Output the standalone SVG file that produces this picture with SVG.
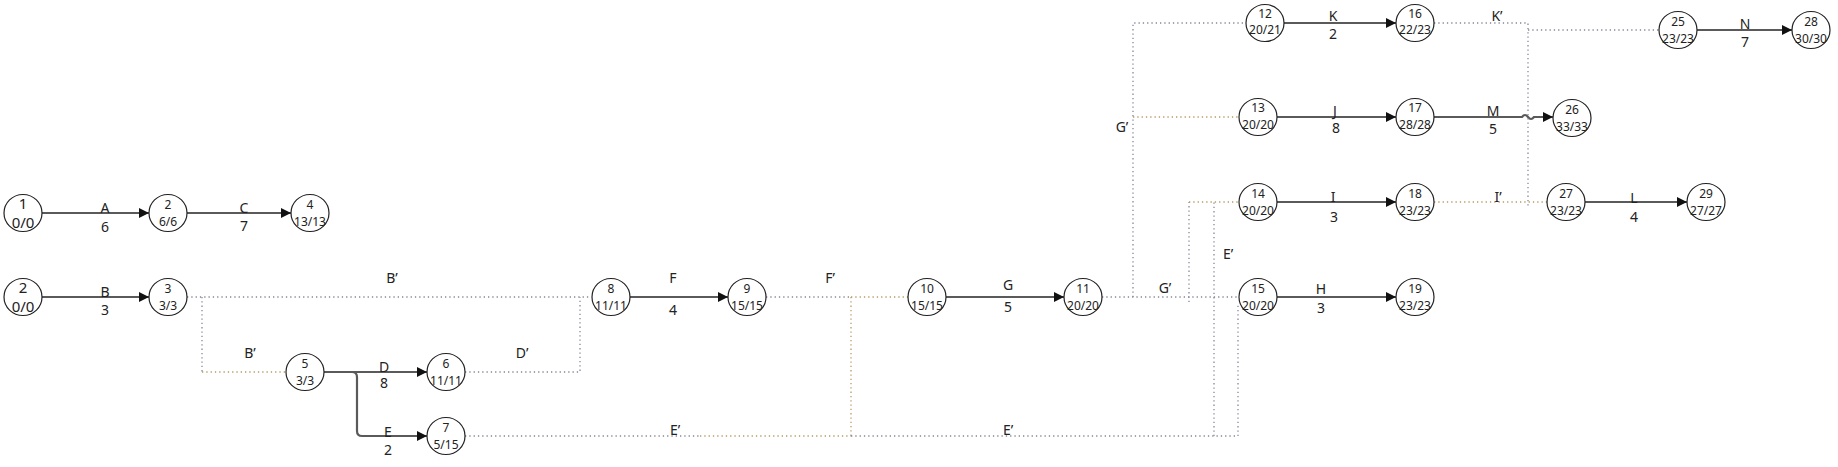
<svg xmlns="http://www.w3.org/2000/svg" width="1838" height="467" viewBox="0 0 1838 467">
<style>
.n ellipse{fill:#fff;stroke:#222;stroke-width:1.2}
.n text{font-family:"Noto Sans","DejaVu Sans",sans-serif;font-size:12px;fill:#222;text-anchor:middle}
.n text.big{font-size:15px}
.s{fill:none;stroke:#5a5a5a;stroke-width:2.2}
.d{fill:none;stroke:#8a849a;stroke-width:1.3;stroke-dasharray:1.3 3}
.o{fill:none;stroke:#b89a62;stroke-width:1.3;stroke-dasharray:1.3 3}
.lb{font-family:"Noto Sans","DejaVu Sans",sans-serif;font-size:14px;fill:#222;text-anchor:middle}
</style>
<defs>
<marker id="ar" viewBox="0 0 10 10" refX="10" refY="5" markerWidth="10" markerHeight="10" markerUnits="userSpaceOnUse" orient="auto">
<path d="M0,0 L10,5 L0,10 z" fill="#111"/>
</marker>
</defs>
<g id="connectors">
<path class="s" d="M42,213 H149" marker-end="url(#ar)"/>
<path class="s" d="M187,213 H291" marker-end="url(#ar)"/>
<path class="s" d="M42,297 H149" marker-end="url(#ar)"/>
<path class="s" d="M324,372 H427" marker-end="url(#ar)"/>
<path class="s" d="M324,372 H352 Q357,372 357,377 V431 Q357,436 362,436 H427" marker-end="url(#ar)"/>
<path class="s" d="M630,297 H728" marker-end="url(#ar)"/>
<path class="s" d="M946,297 H1064" marker-end="url(#ar)"/>
<path class="s" d="M1284,23 H1396" marker-end="url(#ar)"/>
<path class="s" d="M1277,117 H1396" marker-end="url(#ar)"/>
<path class="s" d="M1434,117 H1522 q3,-4 6,0 q3,4 6,0 H1553" marker-end="url(#ar)"/>
<path class="s" d="M1277,202 H1396" marker-end="url(#ar)"/>
<path class="s" d="M1277,297 H1396" marker-end="url(#ar)"/>
<path class="s" d="M1585,202 H1687" marker-end="url(#ar)"/>
<path class="s" d="M1697,30 H1792" marker-end="url(#ar)"/>
<path class="d" d="M187,297 H591"/>
<path class="d" d="M202,297 V372"/>
<path class="o" d="M202,372 H286"/>
<path class="d" d="M465,372 H580 V297"/>
<path class="d" d="M766,297 H851"/>
<path class="o" d="M851,297 H908"/>
<path class="o" d="M851,297 V436"/>
<path class="d" d="M465,436 H700"/>
<path class="o" d="M700,436 H851"/>
<path class="d" d="M851,436 H1238 V303"/>
<path class="d" d="M1214,436 V202"/>
<path class="d" d="M1102,297 H1239"/>
<path class="d" d="M1133,297 V23 H1246"/>
<path class="o" d="M1133,117 H1239"/>
<path class="d" d="M1189,302 V202"/>
<path class="o" d="M1189,202 H1239"/>
<path class="d" d="M1434,23 H1528 V207"/>
<path class="d" d="M1528,30 H1659"/>
<path class="o" d="M1434,202 H1547"/>
</g>
<g id="labels">
<text class="lb" x="105" y="213">A</text><text class="lb" x="105" y="232">6</text>
<text class="lb" x="244" y="213">C</text><text class="lb" x="244" y="231">7</text>
<text class="lb" x="105" y="297" fill="#223a7a">B</text><text class="lb" x="105" y="315">3</text>
<text class="lb" x="384" y="372">D</text><text class="lb" x="384" y="388">8</text>
<text class="lb" x="388" y="437">E</text><text class="lb" x="388" y="455">2</text>
<text class="lb" x="673" y="283">F</text><text class="lb" x="673" y="315">4</text>
<text class="lb" x="1008" y="290">G</text><text class="lb" x="1008" y="312">5</text>
<text class="lb" x="1333" y="21">K</text><text class="lb" x="1333" y="39">2</text>
<text class="lb" x="1335" y="116">J</text><text class="lb" x="1336" y="133">8</text>
<text class="lb" x="1493" y="116">M</text><text class="lb" x="1493" y="134">5</text>
<text class="lb" x="1333" y="202" fill="#b07a20">I</text><text class="lb" x="1334" y="222">3</text>
<text class="lb" x="1321" y="294">H</text><text class="lb" x="1321" y="313">3</text>
<text class="lb" x="1634" y="203">L</text><text class="lb" x="1634" y="222">4</text>
<text class="lb" x="1745" y="29" fill="#2a4a6a">N</text><text class="lb" x="1745" y="47">7</text>
<text class="lb" x="392" y="283">B’</text>
<text class="lb" x="250" y="358">B’</text>
<text class="lb" x="522" y="358">D’</text>
<text class="lb" x="830" y="283">F’</text>
<text class="lb" x="675" y="435">E’</text>
<text class="lb" x="1008" y="435">E’</text>
<text class="lb" x="1228" y="259">E’</text>
<text class="lb" x="1165" y="293">G’</text>
<text class="lb" x="1122" y="132">G’</text>
<text class="lb" x="1497" y="21" fill="#2a4a6a">K’</text>
<text class="lb" x="1498" y="202">I’</text>
</g>
<g id="n1" class="n"><ellipse cx="23" cy="213" rx="19" ry="18.5"/><text class="big" x="23" y="209">1</text><text class="big" x="23" y="228">0/0</text></g>
<g id="n2a" class="n"><ellipse cx="168" cy="213" rx="19" ry="18.5"/><text x="168" y="209">2</text><text x="168" y="226">6/6</text></g>
<g id="n4" class="n"><ellipse cx="310" cy="213" rx="19" ry="18.5"/><text x="310" y="209">4</text><text x="310" y="226">13/13</text></g>
<g id="n2b" class="n"><ellipse cx="23" cy="297" rx="19" ry="18.5"/><text class="big" x="23" y="293">2</text><text class="big" x="23" y="312">0/0</text></g>
<g id="n3" class="n"><ellipse cx="168" cy="297" rx="19" ry="18.5"/><text x="168" y="293">3</text><text x="168" y="310">3/3</text></g>
<g id="n5" class="n"><ellipse cx="305" cy="372" rx="19" ry="18.5"/><text x="305" y="368">5</text><text x="305" y="385">3/3</text></g>
<g id="n6" class="n"><ellipse cx="446" cy="372" rx="19" ry="18.5"/><text x="446" y="368">6</text><text x="446" y="385">11/11</text></g>
<g id="n7" class="n"><ellipse cx="446" cy="436" rx="19" ry="18.5"/><text x="446" y="432">7</text><text x="446" y="449">5/15</text></g>
<g id="n8" class="n"><ellipse cx="611" cy="297" rx="19" ry="18.5"/><text x="611" y="293">8</text><text x="611" y="310">11/11</text></g>
<g id="n9" class="n"><ellipse cx="747" cy="297" rx="19" ry="18.5"/><text x="747" y="293">9</text><text x="747" y="310">15/15</text></g>
<g id="n10" class="n"><ellipse cx="927" cy="297" rx="19" ry="18.5"/><text x="927" y="293">10</text><text x="927" y="310">15/15</text></g>
<g id="n11" class="n"><ellipse cx="1083" cy="297" rx="19" ry="18.5"/><text x="1083" y="293">11</text><text x="1083" y="310">20/20</text></g>
<g id="n12" class="n"><ellipse cx="1265" cy="23" rx="19" ry="18.5"/><text x="1265" y="18">12</text><text x="1265" y="34">20/21</text></g>
<g id="n16" class="n"><ellipse cx="1415" cy="23" rx="19" ry="18.5"/><text x="1415" y="18">16</text><text x="1415" y="34">22/23</text></g>
<g id="n25" class="n"><ellipse cx="1678" cy="30" rx="19" ry="18.5"/><text x="1678" y="26">25</text><text x="1678" y="43">23/23</text></g>
<g id="n28" class="n"><ellipse cx="1811" cy="30" rx="19" ry="18.5"/><text x="1811" y="26">28</text><text x="1811" y="43">30/30</text></g>
<g id="n13" class="n"><ellipse cx="1258" cy="117" rx="19" ry="18.5"/><text x="1258" y="112">13</text><text x="1258" y="129">20/20</text></g>
<g id="n17" class="n"><ellipse cx="1415" cy="117" rx="19" ry="18.5"/><text x="1415" y="112">17</text><text x="1415" y="129">28/28</text></g>
<g id="n26" class="n"><ellipse cx="1572" cy="118" rx="19" ry="18.5"/><text x="1572" y="114">26</text><text x="1572" y="131">33/33</text></g>
<g id="n14" class="n"><ellipse cx="1258" cy="202" rx="19" ry="18.5"/><text x="1258" y="198">14</text><text x="1258" y="215">20/20</text></g>
<g id="n18" class="n"><ellipse cx="1415" cy="202" rx="19" ry="18.5"/><text x="1415" y="198">18</text><text x="1415" y="215">23/23</text></g>
<g id="n27" class="n"><ellipse cx="1566" cy="202" rx="19" ry="18.5"/><text x="1566" y="198">27</text><text x="1566" y="215">23/23</text></g>
<g id="n29" class="n"><ellipse cx="1706" cy="202" rx="19" ry="18.5"/><text x="1706" y="198">29</text><text x="1706" y="215">27/27</text></g>
<g id="n15" class="n"><ellipse cx="1258" cy="297" rx="19" ry="18.5"/><text x="1258" y="293">15</text><text x="1258" y="310">20/20</text></g>
<g id="n19" class="n"><ellipse cx="1415" cy="297" rx="19" ry="18.5"/><text x="1415" y="293">19</text><text x="1415" y="310">23/23</text></g>
</svg>
